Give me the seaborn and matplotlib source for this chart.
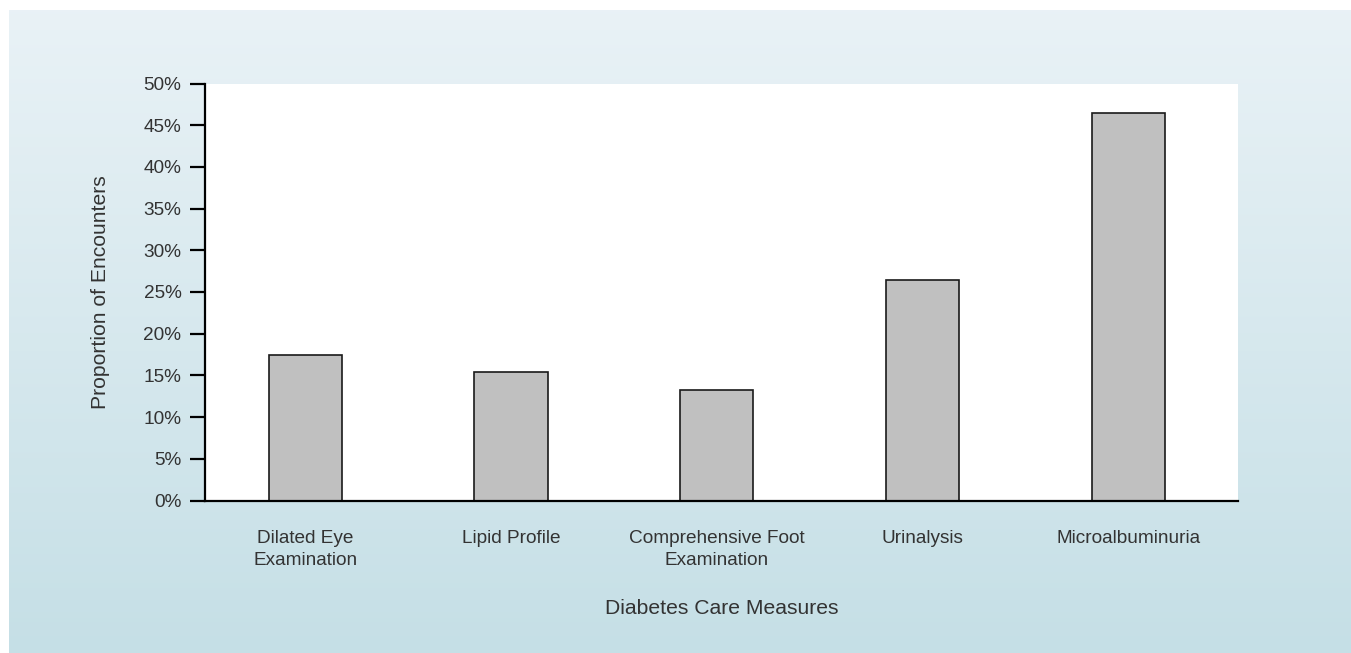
import numpy as np
import pandas as pd
import matplotlib
matplotlib.use("Agg")
import matplotlib.pyplot as plt
import seaborn as sns
from matplotlib.ticker import FuncFormatter

measures = ["Dilated Eye\nExamination", "Lipid Profile", "Comprehensive Foot\nExamination",
            "Urinalysis", "Microalbuminuria"]
proportions = [17.4, 15.4, 13.3, 26.4, 46.5]
y_ticks = [0, 5, 10, 15, 20, 25, 30, 35, 40, 45, 50]

sns.set_theme(style="white")
plt.rcParams["font.family"] = ["Liberation Sans", "DejaVu Sans"]

W, H = 1351, 653
fig = plt.figure(figsize=(W / 100, H / 100), dpi=100)
fig.patch.set_facecolor("white")

# Light blue gradient panel behind the chart
bg = fig.add_axes([9 / W, 0, 1 - 9 / W, (H - 10) / H], zorder=0)
top = np.array([0.914, 0.949, 0.965])
bottom = np.array([0.773, 0.875, 0.902])
t = np.linspace(0, 1, 256)[:, None]
grad = (top[None, :] * (1 - t) + bottom[None, :] * t)[:, None, :]
bg.imshow(grad, aspect="auto", extent=[0, 1, 0, 1])
bg.set_axis_off()

ax = fig.add_axes([205 / W, (H - 500.5) / H, (1238 - 205) / W, (500.5 - 83.5) / H], zorder=1)
df = pd.DataFrame({"measure": measures, "proportion": proportions})
sns.barplot(data=df, x="measure", y="proportion", color="#c0c0c0", saturation=1,
            edgecolor="#1a1a1a", linewidth=1.2, width=0.355, ax=ax)

ax.set_facecolor("white")
ax.set_xlim(-0.487, 4.533)
ax.set_ylim(0, 50)
ax.set_yticks(y_ticks)
ax.yaxis.set_major_formatter(FuncFormatter(lambda v, _: f"{v:.0f}%"))
for side in ["top", "right"]:
    ax.spines[side].set_visible(False)
for side in ["left", "bottom"]:
    ax.spines[side].set_color("black")
    ax.spines[side].set_linewidth(1.6)
ax.tick_params(axis="y", direction="out", length=11, width=1.6, color="black",
               labelsize=13.7, labelcolor="#333333", pad=6, left=True)
ax.tick_params(axis="x", length=0, labelsize=13.7, labelcolor="#333333", pad=21)
for lbl in ax.get_xticklabels():
    lbl.set_linespacing(1.4)

ax.set_xlabel("Diabetes Care Measures", fontsize=15.2, color="#333333", labelpad=22)
ax.set_ylabel("Proportion of Encounters", fontsize=15.2, color="#333333", labelpad=24)

fig.savefig("out.png", dpi=100)
